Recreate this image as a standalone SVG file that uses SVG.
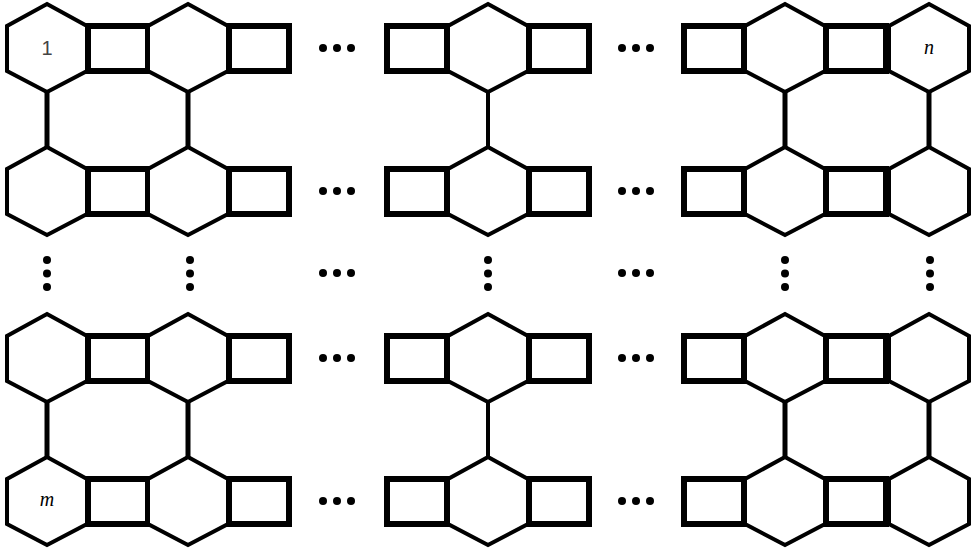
<svg xmlns="http://www.w3.org/2000/svg" width="975" height="551" viewBox="0 0 975 551">
<style>
.h{fill:#fff;stroke:#000;stroke-width:4;stroke-linejoin:miter}
.s{fill:#fff;stroke:#000;stroke-width:6}
.c{stroke:#000;stroke-width:5}
.d{fill:#000}
.t{font-family:"Liberation Serif",serif;font-size:20px;font-style:italic}
</style>
<defs>
<polygon id="hx" class="h" points="0,0 40,22 40,67 0,88 -40,67 -40,22"/>
<rect id="sq" class="s" x="0" y="22" width="60" height="45"/>
<g id="row">
<use href="#sq" x="88"/><use href="#sq" x="229"/><use href="#sq" x="387"/><use href="#sq" x="529"/><use href="#sq" x="684"/><use href="#sq" x="826"/>
<use href="#hx" x="47"/><use href="#hx" x="188"/><use href="#hx" x="488"/><use href="#hx" x="785"/><use href="#hx" x="929"/>
</g>
<g id="hd"><circle class="d" cx="0" cy="0" r="4"/><circle class="d" cx="14" cy="0" r="4"/><circle class="d" cx="28" cy="0" r="4"/></g>
<g id="vd"><circle class="d" cx="0" cy="0" r="4"/><circle class="d" cx="0" cy="13.5" r="4"/><circle class="d" cx="0" cy="27" r="4"/></g>
</defs>
<g id="connectors">
<line class="c" x1="47" y1="92" x2="47" y2="147"/><line class="c" x1="188" y1="92" x2="188" y2="147"/><line class="c" x1="488" y1="92" x2="488" y2="147" style="stroke-width:4"/><line class="c" x1="785" y1="92" x2="785" y2="147"/><line class="c" x1="929" y1="92" x2="929" y2="147"/>
<line class="c" x1="47" y1="402" x2="47" y2="457"/><line class="c" x1="188" y1="402" x2="188" y2="457"/><line class="c" x1="488" y1="402" x2="488" y2="457" style="stroke-width:4"/><line class="c" x1="785" y1="402" x2="785" y2="457"/><line class="c" x1="929" y1="402" x2="929" y2="457"/>
</g>
<g id="row1"><use href="#row" y="4"/></g>
<g id="row2"><use href="#row" y="147"/></g>
<g id="row3"><use href="#row" y="314"/></g>
<g id="row4"><use href="#row" y="457"/></g>
<g id="dots">
<use href="#hd" x="323" y="48"/><use href="#hd" x="622" y="48"/>
<use href="#hd" x="323" y="191"/><use href="#hd" x="622" y="191"/>
<use href="#hd" x="323" y="273"/><use href="#hd" x="622" y="273"/>
<use href="#hd" x="323" y="358"/><use href="#hd" x="622" y="358"/>
<use href="#hd" x="323" y="501"/><use href="#hd" x="622" y="501"/>
<use href="#vd" x="47" y="260"/><use href="#vd" x="190" y="260"/><use href="#vd" x="488" y="260"/><use href="#vd" x="785" y="260"/><use href="#vd" x="930" y="260"/>
</g>
<text x="47" y="55" text-anchor="middle" style="font-family:'Liberation Sans',sans-serif;font-size:20px;fill:#444">1</text>
<text class="t" x="929" y="54" text-anchor="middle">n</text>
<text class="t" x="47" y="506" text-anchor="middle">m</text>
</svg>
